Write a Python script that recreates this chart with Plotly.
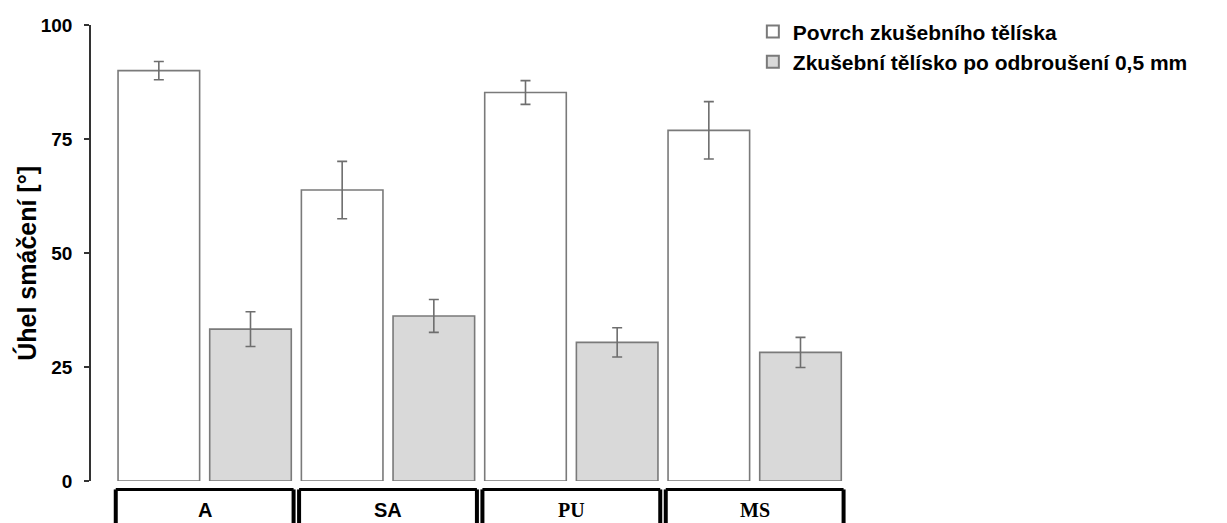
import plotly.graph_objects as go

# Contact angle measurements per adhesive type
categories = ["A", "SA", "PU", "MS"]
label_fonts = ["Liberation Sans", "Liberation Sans", "Liberation Serif", "Liberation Serif"]

povrch = [90.0, 63.8, 85.2, 76.9]
povrch_err = [2.0, 6.3, 2.6, 6.3]

odbrouseni = [33.3, 36.2, 30.4, 28.2]
odbrouseni_err = [3.8, 3.6, 3.2, 3.3]

series_names = ["Povrch zkušebního tělíska", "Zkušební tělísko po odbroušení 0,5 mm"]
y_ticks = [0, 25, 50, 75, 100]

OUTLINE = "#7a7a7a"
ERR = "#6e6e6e"

fig = go.Figure()
fig.add_trace(go.Bar(
    x=categories, y=povrch, name=f"<b>{series_names[0]}</b>", legendgroup="g1",
    marker=dict(color="white", line=dict(color=OUTLINE, width=1.6)),
    error_y=dict(type="data", array=povrch_err, color=ERR, thickness=1.6, width=5),
))
fig.add_trace(go.Bar(
    x=categories, y=odbrouseni, name=f"<b>{series_names[1]}</b>", legendgroup="g2",
    marker=dict(color="#d9d9d9", line=dict(color=OUTLINE, width=1.6)),
    error_y=dict(type="data", array=odbrouseni_err, color=ERR, thickness=1.6, width=5),
))

# Framed category labels under the axis
shapes = []
annotations = []
half = 0.485
for i, (cat, fam) in enumerate(zip(categories, label_fonts)):
    x0, x1 = i - half, i + half
    shapes.append(dict(type="line", xref="x", yref="paper", x0=x0, x1=x1,
                       y0=-0.0185, y1=-0.0185, line=dict(color="black", width=3)))
    for xv in (x0, x1):
        shapes.append(dict(type="line", xref="x", yref="paper", x0=xv, x1=xv,
                           y0=-0.0185, y1=-0.2, line=dict(color="black", width=4)))
    annotations.append(dict(x=i, y=-0.063, xref="x", yref="paper", text=f"<b>{cat}</b>",
                            showarrow=False, yanchor="middle",
                            font=dict(family=fam, size=20, color="black")))

annotations.append(dict(
    x=-0.086, y=0.478, xref="paper", yref="paper", text="<b>Úhel smáčení [°]</b>",
    textangle=-90, showarrow=False, xanchor="center", yanchor="middle",
    font=dict(family="Liberation Sans", size=25, color="black"),
))

fig.update_layout(
    width=1227, height=523,
    margin=dict(l=91, r=377, t=25, b=42, autoexpand=False),
    paper_bgcolor="white", plot_bgcolor="white",
    barmode="group", bargap=0.0, bargroupgap=0.11,
    font=dict(family="Liberation Sans", color="black"),
    showlegend=True,
    legend=dict(x=0.872, y=1.03, xanchor="left", yanchor="top",
                font=dict(family="Liberation Sans", size=21, color="black"),
                bgcolor="rgba(0,0,0,0)", traceorder="grouped", tracegroupgap=0,
                itemsizing="constant"),
    shapes=shapes, annotations=annotations,
)
fig.update_xaxes(range=[-0.62, 3.52], showticklabels=False, showline=False,
                 ticks="", showgrid=False, zeroline=False)
fig.update_yaxes(range=[0, 100], tickvals=y_ticks, ticktext=[f"<b>{v}</b>" for v in y_ticks],
                 tickfont=dict(family="Liberation Sans", size=19, color="black"),
                 ticks="outside", ticklen=5, tickwidth=1.5, tickcolor="#333333",
                 ticklabelstandoff=8,
                 showline=True, linecolor="#333333", linewidth=1.5,
                 showgrid=False, zeroline=False)

fig.write_html("out.html")
